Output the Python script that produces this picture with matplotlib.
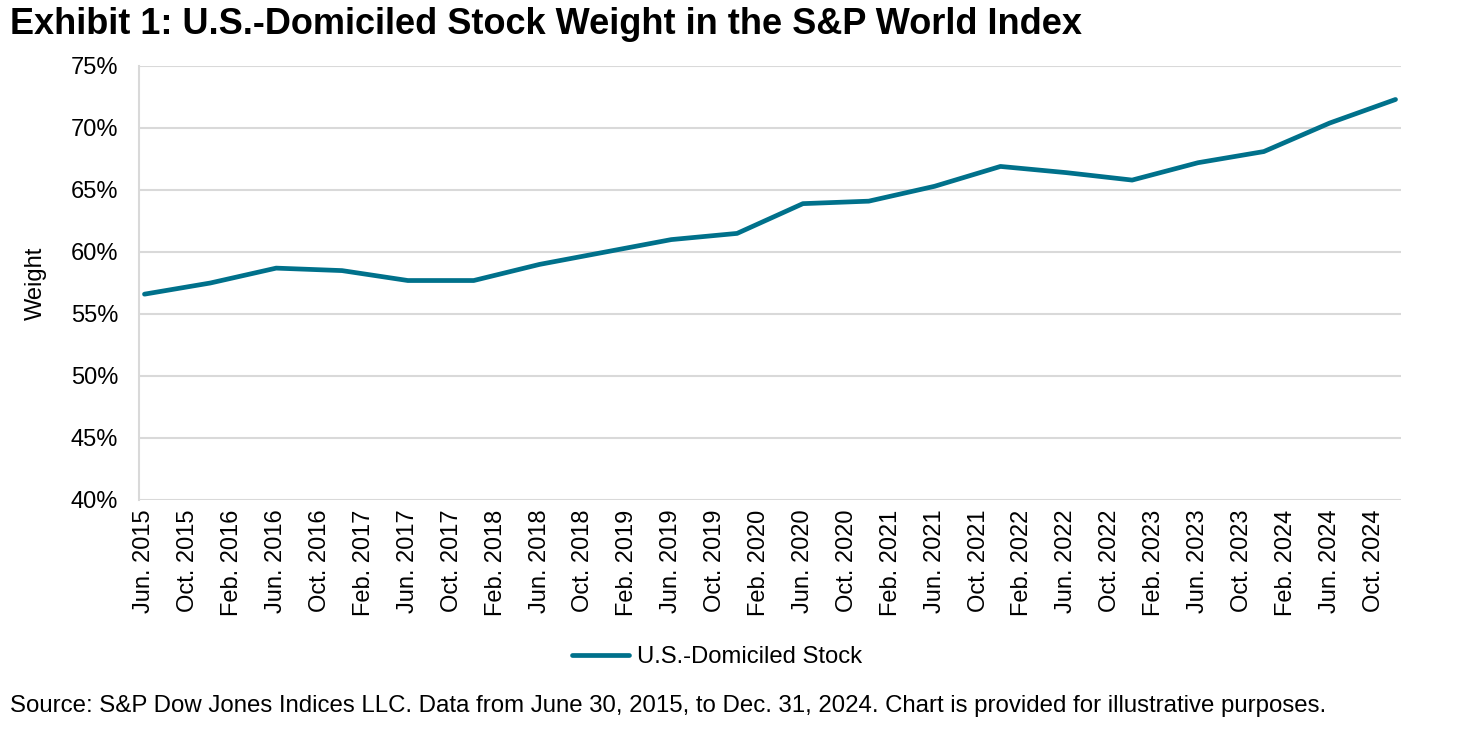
import matplotlib
matplotlib.use("Agg")
import matplotlib.pyplot as plt
from matplotlib.ticker import FuncFormatter

plt.rcParams['font.family'] = ['Liberation Sans', 'DejaVu Sans']

# Semiannual observation dates (month offsets from Jun 2015) and weights (%)
obs_labels = ["Jun 2015", "Dec 2015", "Jun 2016", "Dec 2016", "Jun 2017", "Dec 2017",
              "Jun 2018", "Dec 2018", "Jun 2019", "Dec 2019", "Jun 2020", "Dec 2020",
              "Jun 2021", "Dec 2021", "Jun 2022", "Dec 2022", "Jun 2023", "Dec 2023",
              "Jun 2024", "Dec 2024"]
obs_month = [0, 6, 12, 18, 24, 30, 36, 42, 48, 54, 60, 66, 72, 78, 84, 90, 96, 102, 108, 114]
weights = [56.6, 57.5, 58.7, 58.5, 57.7, 57.7, 59.0, 60.0, 61.0, 61.5, 63.9, 64.1,
           65.3, 66.9, 66.4, 65.8, 67.2, 68.1, 70.4, 72.3]

tick_months = list(range(0, 113, 4))
tick_labels = ["Jun. 2015", "Oct. 2015", "Feb. 2016", "Jun. 2016", "Oct. 2016", "Feb. 2017",
               "Jun. 2017", "Oct. 2017", "Feb. 2018", "Jun. 2018", "Oct. 2018", "Feb. 2019",
               "Jun. 2019", "Oct. 2019", "Feb. 2020", "Jun. 2020", "Oct. 2020", "Feb. 2021",
               "Jun. 2021", "Oct. 2021", "Feb. 2022", "Jun. 2022", "Oct. 2022", "Feb. 2023",
               "Jun. 2023", "Oct. 2023", "Feb. 2024", "Jun. 2024", "Oct. 2024"]
y_ticks = [40, 45, 50, 55, 60, 65, 70, 75]

W, H = 1471, 737
fig = plt.figure(figsize=(W / 100, H / 100), dpi=100)
ax = fig.add_axes([139 / W, 1 - 500 / H, (1401 - 139) / W, (500 - 66) / H])

color = "#00718B"
line, = ax.plot(obs_month, weights, color=color, lw=3.4, solid_joinstyle='round',
                solid_capstyle='round', label="U.S.-Domiciled Stock", zorder=3)

fs = 17
ax.set_xlim(-0.5, 114.5)
ax.set_ylim(40, 75)
ax.set_yticks(y_ticks)
ax.yaxis.set_major_formatter(FuncFormatter(lambda v, p: f"{v:.0f}%"))
ax.set_xticks(tick_months)
ax.set_xticklabels(tick_labels, rotation=90, fontsize=fs)
ax.tick_params(axis='y', labelsize=fs, length=0, pad=15)
ax.tick_params(axis='x', length=0, pad=7)

ax.grid(axis='y', color='#D9D9D9', lw=1.5, zorder=0)
for s in ['top', 'right', 'bottom']:
    ax.spines[s].set_visible(False)
ax.spines['left'].set_color('#D9D9D9')
ax.spines['left'].set_linewidth(1.5)

ax.set_ylabel("Weight", fontsize=fs)
ax.yaxis.set_label_coords(-92 / (1401 - 139), 0.5)

fig.text(10 / W, 1 - 24 / H, "Exhibit 1: U.S.-Domiciled Stock Weight in the S&P World Index",
         fontsize=26, fontweight='bold', va='center', ha='left')

fig.legend(handles=[line], loc='center', bbox_to_anchor=(717 / W, 1 - 657 / H),
           frameon=False, fontsize=17.2, handlelength=2.4, handletextpad=0.35)

fig.text(10 / W, 1 - 706 / H,
         "Source: S&P Dow Jones Indices LLC. Data from June 30, 2015, to Dec. 31, 2024. Chart is provided for illustrative purposes.",
         fontsize=17.25, va='center', ha='left')

fig.savefig("out.png", dpi=100)
